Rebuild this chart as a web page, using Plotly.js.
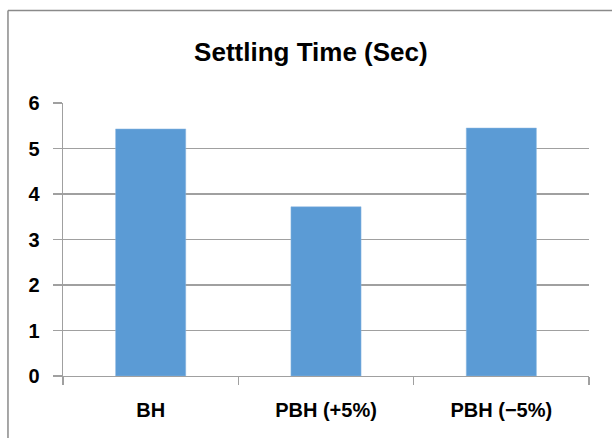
<!DOCTYPE html>
<html>
<head>
<meta charset="utf-8">
<script src="https://cdn.plot.ly/plotly-3.0.1.min.js"></script>
<style>html,body{margin:0;padding:0;background:#fff;}#chart{width:612px;height:438px;}</style>
</head>
<body>
<div id="chart"></div>
<script>
const categories = ["BH", "PBH (+5%)", "PBH (\u22125%)"];
const settlingTime = [5.43, 3.72, 5.45];
const yTicks = [0, 1, 2, 3, 4, 5, 6];
const chartTitle = "Settling Time (Sec)";

const font = "'Liberation Sans', Arial, sans-serif";
const trace = {
  type: "bar",
  x: categories,
  y: settlingTime,
  marker: {color: "#5b9bd5", line: {color: "#8fb8e0", width: 0.5}},
  hoverinfo: "x+y"
};
const layout = {
  width: 612, height: 438,
  margin: {l: 63, r: 23, t: 103, b: 62},
  paper_bgcolor: "#ffffff", plot_bgcolor: "#ffffff",
  showlegend: false,
  bargap: 0.6,
  title: {text: "<b>" + chartTitle + "</b>", x: 0.508, xanchor: "center", y: 0.882, yanchor: "middle",
          font: {family: font, size: 26, color: "#000"}},
  xaxis: {
    type: "category",
    showline: true, linecolor: "#a0a0a0", linewidth: 1.3,
    ticks: "outside", tickson: "boundaries", ticklen: 8, tickcolor: "#a0a0a0", tickwidth: 1.3,
    tickfont: {family: font, size: 20, color: "#000", weight: "bold"},
    ticklabelstandoff: 16,
    showgrid: false
  },
  yaxis: {
    range: [0, 6], tickvals: yTicks, ticktext: yTicks.map(String),
    showline: true, linecolor: "#a0a0a0", linewidth: 1.3,
    ticks: "outside", ticklen: 9, tickcolor: "#a0a0a0", tickwidth: 1.3,
    showgrid: true, gridcolor: "#a0a0a0", gridwidth: 1.3,
    zeroline: false,
    tickfont: {family: font, size: 20, color: "#000", weight: "bold"},
    ticklabelstandoff: 9
  },
  shapes: [
    {type: "line", xref: "paper", yref: "paper", x0: -0.1046, x1: -0.1046, y0: -0.3, y1: 1.339,
     line: {color: "#8a8a8a", width: 1.5}},
    {type: "line", xref: "paper", yref: "paper", x0: -0.1046, x1: 1.1, y0: 1.339, y1: 1.339,
     line: {color: "#8a8a8a", width: 1.5}}
  ]
};
Plotly.newPlot("chart", [trace], layout, {displayModeBar: false, staticPlot: true});
</script>
</body>
</html>
